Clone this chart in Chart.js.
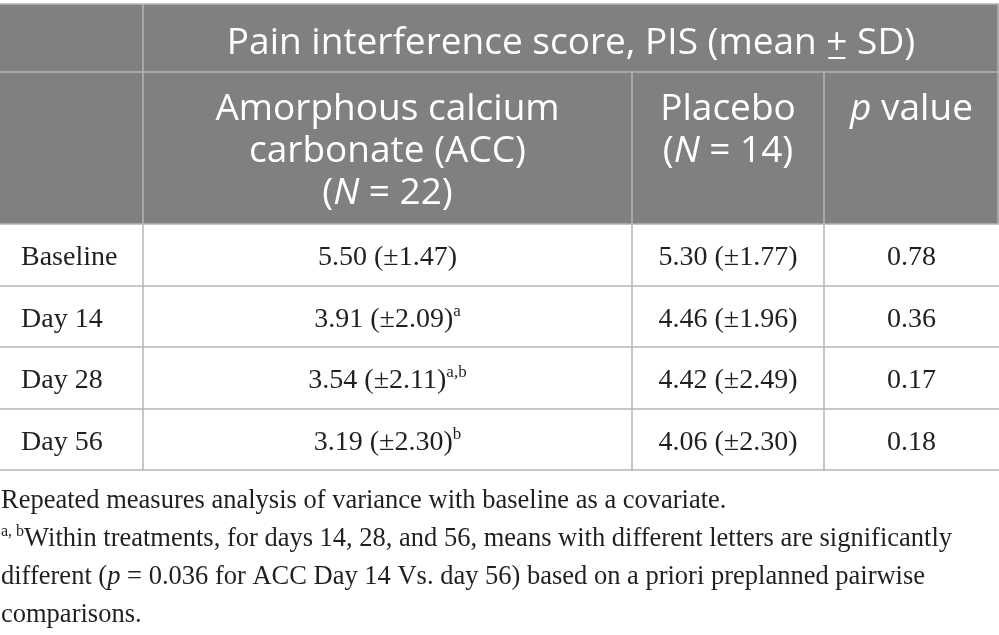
<!DOCTYPE html>
<html>
<head>
<meta charset="utf-8">
<script src="https://cdn.jsdelivr.net/npm/chart.js@4"></script>
<style>
html,body{margin:0;padding:0;background:#fff;}
#wrap{width:999px;height:635px;}
</style>
</head>
<body>
<div id="wrap"><canvas id="c" width="999" height="635"></canvas></div>
<script>
// ---- data ----
const headerTitle = ["Pain interference score, PIS (mean ", "+", " SD)"];
const columnHeaders = [
  [[{t:"Amorphous calcium"}],[{t:"carbonate (ACC)"}],[{t:"("},{t:"N",i:true},{t:" = 22)"}]],
  [[{t:"Placebo"}],[{t:"("},{t:"N",i:true},{t:" = 14)"}]],
  [[{t:"p",i:true},{t:" value"}]]
];
const rowLabels = ["Baseline","Day 14","Day 28","Day 56"];
const accMean = [5.50, 3.91, 3.54, 3.19];
const accSD = [1.47, 2.09, 2.11, 2.30];
const accSup = ["", "a", "a,b", "b"];
const placeboMean = [5.30, 4.46, 4.42, 4.06];
const placeboSD = [1.77, 1.96, 2.49, 2.30];
const pValues = [0.78, 0.36, 0.17, 0.18];
const footnotes = [
  [{t:"Repeated measures analysis of variance with baseline as a covariate."}],
  [{t:"a, b",s:true},{t:"Within treatments, for days 14, 28, and 56, means with different letters are significantly"}],
  [{t:"different ("},{t:"p",i:true},{t:" = 0.036 for ACC Day 14 Vs. day 56) based on a priori preplanned pairwise"}],
  [{t:"comparisons."}]
];

// ---- layout (in scale units) ----
const colEdges = [0, 143, 632, 824, 999];
const headTop = 4, headMid = 72, headBottom = 224;
const rowEdges = [224, 286, 347, 409, 470];
const TITLE_WIDTH = 688;
const HEAD_COLOR = "#808080", LINE_COLOR = "#b4b4b4", TEXT_COLOR = "#231f20";
const SANS = "'Open Sans'", SERIF = "'Liberation Serif'";

function fontOf(s, size, family, weight) {
  return (s.i ? "italic " : "") + weight + " " + (s.s ? Math.round(size*0.62) : size) + "px " + family;
}
function measureRich(ctx, segs, size, family, weight) {
  let total = 0;
  segs.forEach(s => { ctx.font = fontOf(s, size, family, weight); total += ctx.measureText(s.t).width; });
  return total;
}
function drawRich(ctx, segs, x, y, size, family, align, color, weight) {
  weight = weight || "400";
  const widths = segs.map(s => { ctx.font = fontOf(s, size, family, weight); return ctx.measureText(s.t).width; });
  const total = widths.reduce((a,b)=>a+b,0);
  let cx = align === "center" ? x - total/2 : x;
  const pos = [];
  segs.forEach((s, k) => {
    ctx.font = fontOf(s, size, family, weight);
    ctx.fillStyle = color;
    ctx.textAlign = "left";
    ctx.textBaseline = "alphabetic";
    ctx.fillText(s.t, cx, s.s ? y - size*0.38 : y);
    pos.push([cx, widths[k]]);
    cx += widths[k];
  });
  return pos;
}

const tablePlugin = {
  id: "tablePlugin",
  afterDraw(chart) {
    const ctx = chart.ctx, X = chart.scales.x, Y = chart.scales.y;
    const px = v => X.getPixelForValue(v), py = v => Y.getPixelForValue(v);
    ctx.save();
    // header background
    ctx.fillStyle = HEAD_COLOR;
    ctx.fillRect(px(0), py(headTop), px(999) - px(0), py(headBottom) - py(headTop));
    ctx.strokeStyle = LINE_COLOR;
    ctx.lineWidth = 1.5;
    const line = (x1,y1,x2,y2) => { ctx.beginPath(); ctx.moveTo(px(x1),py(y1)); ctx.lineTo(px(x2),py(y2)); ctx.stroke(); };
    line(0, headTop, 999, headTop);
    line(0, headMid, 999, headMid);
    line(colEdges[1], headTop, colEdges[1], rowEdges[4]);
    line(colEdges[2], headMid, colEdges[2], rowEdges[4]);
    line(colEdges[3], headMid, colEdges[3], rowEdges[4]);
    line(998, headTop, 998, headBottom);
    rowEdges.forEach(r => line(0, r, 999, r));
    // header font size fitted to title width
    const titleSegs = headerTitle.map(t => ({t}));
    const w0 = measureRich(ctx, titleSegs, 34, SANS, "400");
    const hs = Math.round(34 * TITLE_WIDTH / w0 * 10) / 10;
    const pos = drawRich(ctx, titleSegs, (px(colEdges[1]) + px(colEdges[4]))/2, py(54), hs, SANS, "center", "#fff", "400");
    ctx.fillStyle = "#fff";
    ctx.fillRect(pos[1][0] + 2, py(57), pos[1][1] - 4, 2);
    // column headers
    columnHeaders.forEach((lines, c) => {
      const cx = (px(colEdges[c+1]) + px(colEdges[c+2]))/2;
      lines.forEach((segs, l) => drawRich(ctx, segs, cx, py(120 + l*42), hs, SANS, "center", "#fff", "400"));
    });
    // body
    rowLabels.forEach((lab, r) => {
      const y = py((rowEdges[r] + rowEdges[r+1])/2 + 10);
      drawRich(ctx, [{t:lab}], px(21), y, 28, SERIF, "left", TEXT_COLOR);
      const accSegs = [{t: accMean[r].toFixed(2) + " (\u00b1" + accSD[r].toFixed(2) + ")"}];
      if (accSup[r]) accSegs.push({t: accSup[r], s:true});
      drawRich(ctx, accSegs, (px(colEdges[1]) + px(colEdges[2]))/2, y, 28, SERIF, "center", TEXT_COLOR);
      drawRich(ctx, [{t: placeboMean[r].toFixed(2) + " (\u00b1" + placeboSD[r].toFixed(2) + ")"}], (px(colEdges[2]) + px(colEdges[3]))/2, y, 28, SERIF, "center", TEXT_COLOR);
      drawRich(ctx, [{t: pValues[r].toFixed(2)}], (px(colEdges[3]) + px(colEdges[4]))/2, y, 28, SERIF, "center", TEXT_COLOR);
    });
    // footnotes
    footnotes.forEach((segs, k) => drawRich(ctx, segs, px(1), py(508 + k*38), 26.5, SERIF, "left", TEXT_COLOR));
    ctx.restore();
  }
};

new Chart(document.getElementById("c"), {
  type: "scatter",
  data: { datasets: [{ data: [], pointRadius: 0 }] },
  options: {
    responsive: false,
    animation: false,
    devicePixelRatio: 1,
    layout: { padding: 0 },
    plugins: { legend: { display: false }, tooltip: { enabled: false } },
    scales: {
      x: { type: "linear", min: 0, max: 999, display: false },
      y: { type: "linear", min: 0, max: 635, reverse: true, display: false }
    }
  },
  plugins: [tablePlugin]
});
</script>
</body>
</html>
